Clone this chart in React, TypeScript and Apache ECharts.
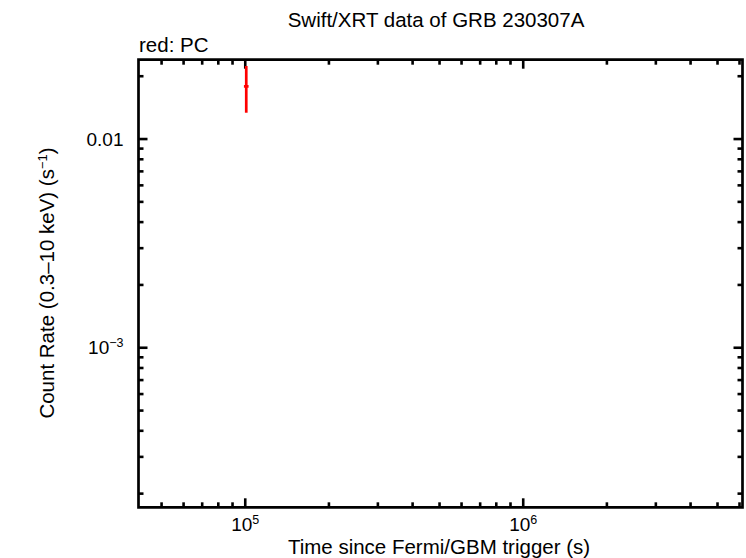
import React, { useEffect, useRef } from "react";
import * as echarts from "echarts";

// ---- texts ----
const TITLE = "Swift/XRT data of GRB 230307A";
const NOTE = "red: PC";
const X_NAME = "Time since Fermi/GBM trigger (s)";

// ---- axis ranges ----
const X_MIN = 41300;
const X_MAX = 6.15e6;
const Y_MIN = 1.72e-4;
const Y_MAX = 0.024;

// ---- data (PC mode) ----
const pcTime = [100830];
const pcTimeLo = [98900];
const pcTimeHi = [102800];
const pcRate = [0.01788];
const pcRateLo = [0.01337];
const pcRateHi = [0.02239];

// ---- ticks ----
const xMajorTicks = [1e5, 1e6];
const xMinorTicks = [
  5e4, 6e4, 7e4, 8e4, 9e4,
  2e5, 3e5, 4e5, 5e5, 6e5, 7e5, 8e5, 9e5,
  2e6, 3e6, 4e6, 5e6, 6e6,
];
const yMajorTicks = [1e-3, 1e-2];
const yMinorTicks = [
  2e-4, 3e-4, 4e-4, 5e-4, 6e-4, 7e-4, 8e-4, 9e-4,
  2e-3, 3e-3, 4e-3, 5e-3, 6e-3, 7e-3, 8e-3, 9e-3,
  2e-2,
];

const FONT = "'Liberation Sans', Arial, Helvetica, sans-serif";
const FS = 20.5;
const TFS = 19;

const tickRich = {
  b: { fontSize: TFS, fontFamily: FONT, color: "#000" },
  s: { fontSize: 12.5, fontFamily: FONT, color: "#000", padding: [0, 0, 9, 0] },
};
const nameRich = {
  b: { fontSize: FS, fontFamily: FONT, color: "#000" },
  s: { fontSize: 13, fontFamily: FONT, color: "#000", padding: [0, 0, 9, 0] },
};

function expLabel(v: number): string {
  const e = Math.round(Math.log10(v));
  if (e === -2) return "{b|0.01}";
  const sign = e < 0 ? "\u2212" : "";
  return `{b|10}{s|${sign}${Math.abs(e)}}`;
}

export default function App() {
  const ref = useRef<HTMLDivElement>(null);
  useEffect(() => {
    if (!ref.current) return;
    const chart = echarts.init(ref.current, undefined, { renderer: "svg" });

    const xTickData = [
      ...xMajorTicks.map((v) => [v, Y_MIN, 1]),
      ...xMinorTicks.map((v) => [v, Y_MIN, 0]),
    ];
    const yTickData = [
      ...yMajorTicks.map((v) => [X_MIN, v, 1]),
      ...yMinorTicks.map((v) => [X_MIN, v, 0]),
    ];
    const errData = pcTime.map((t, i) => [
      t,
      pcRate[i],
      pcTimeLo[i],
      pcTimeHi[i],
      pcRateLo[i],
      pcRateHi[i],
    ]);

    const tickStyle = { stroke: "#000", lineWidth: 2.6 };

    chart.setOption({
      animation: false,
      textStyle: { fontFamily: FONT },
      grid: {
        left: 138.5,
        right: 3.5,
        top: 59.7,
        bottom: 50.7,
        show: true,
        borderColor: "#000",
        borderWidth: 2.7,
        backgroundColor: "transparent",
      },
      xAxis: {
        type: "log",
        logBase: 10,
        min: X_MIN,
        max: X_MAX,
        axisLine: { show: false },
        axisTick: { show: false },
        splitLine: { show: false },
        axisLabel: {
          showMinLabel: false,
          showMaxLabel: false,
          margin: 6,
          formatter: (v: number) => expLabel(v),
          rich: tickRich,
        },
      },
      yAxis: {
        type: "log",
        logBase: 10,
        min: Y_MIN,
        max: Y_MAX,
        axisLine: { show: false },
        axisTick: { show: false },
        splitLine: { show: false },
        axisLabel: {
          showMinLabel: false,
          showMaxLabel: false,
          margin: 15,
          formatter: (v: number) => expLabel(v),
          rich: tickRich,
        },
      },
      graphic: [
        {
          type: "text",
          x: 436,
          y: 19.5,
          style: {
            text: TITLE,
            fill: "#000",
            font: `${FS}px ${FONT}`,
            textAlign: "center",
            textVerticalAlign: "middle",
          },
        },
        {
          type: "text",
          x: 139,
          y: 44,
          style: {
            text: NOTE,
            fill: "#000",
            font: `${FS}px ${FONT}`,
            textAlign: "left",
            textVerticalAlign: "middle",
          },
        },
        {
          type: "text",
          x: 439,
          y: 546.5,
          style: {
            text: X_NAME,
            fill: "#000",
            font: `${FS}px ${FONT}`,
            textAlign: "center",
            textVerticalAlign: "middle",
          },
        },
        {
          type: "text",
          x: 46.5,
          y: 283,
          rotation: Math.PI / 2,
          style: {
            text: "{b|Count Rate (0.3\u201310 keV) (s}{s|\u22121}{b|)}",
            rich: nameRich,
            textAlign: "center",
            textVerticalAlign: "middle",
          },
        },
      ],
      series: [
        {
          type: "custom",
          coordinateSystem: "cartesian2d",
          clip: false,
          silent: true,
          data: xTickData,
          encode: { x: 0, y: 1 },
          renderItem: (params: any, api: any) => {
            const cs = params.coordSys;
            const x = api.coord([api.value(0), Y_MIN])[0];
            const len = api.value(2) ? 9 : 5;
            const yb = cs.y + cs.height;
            return {
              type: "group",
              children: [
                { type: "line", shape: { x1: x, y1: yb, x2: x, y2: yb - len }, style: tickStyle },
                { type: "line", shape: { x1: x, y1: cs.y, x2: x, y2: cs.y + len }, style: tickStyle },
              ],
            };
          },
        },
        {
          type: "custom",
          coordinateSystem: "cartesian2d",
          clip: false,
          silent: true,
          data: yTickData,
          encode: { x: 0, y: 1 },
          renderItem: (params: any, api: any) => {
            const cs = params.coordSys;
            const y = api.coord([X_MIN, api.value(1)])[1];
            const len = api.value(2) ? 9 : 5;
            const xr = cs.x + cs.width;
            return {
              type: "group",
              children: [
                { type: "line", shape: { x1: cs.x, y1: y, x2: cs.x + len, y2: y }, style: tickStyle },
                { type: "line", shape: { x1: xr, y1: y, x2: xr - len, y2: y }, style: tickStyle },
              ],
            };
          },
        },
        {
          type: "custom",
          coordinateSystem: "cartesian2d",
          clip: false,
          silent: true,
          data: errData,
          encode: { x: 0, y: 1 },
          renderItem: (params: any, api: any) => {
            const c = api.coord([api.value(0), api.value(1)]);
            const xl = api.coord([api.value(2), api.value(1)])[0];
            const xh = api.coord([api.value(3), api.value(1)])[0];
            const yl = api.coord([api.value(0), api.value(4)])[1];
            const yh = api.coord([api.value(0), api.value(5)])[1];
            const st = { stroke: "#ff0000", lineWidth: 2.7 };
            return {
              type: "group",
              children: [
                { type: "line", shape: { x1: c[0], y1: yl, x2: c[0], y2: yh }, style: st },
                { type: "line", shape: { x1: xl, y1: c[1], x2: xh, y2: c[1] }, style: st },
              ],
            };
          },
        },
      ],
    });
    return () => chart.dispose();
  }, []);
  return (
    <div
      ref={ref}
      style={{ position: "fixed", left: 0, top: 0, width: 746, height: 558, background: "#fff" }}
    />
  );
}
